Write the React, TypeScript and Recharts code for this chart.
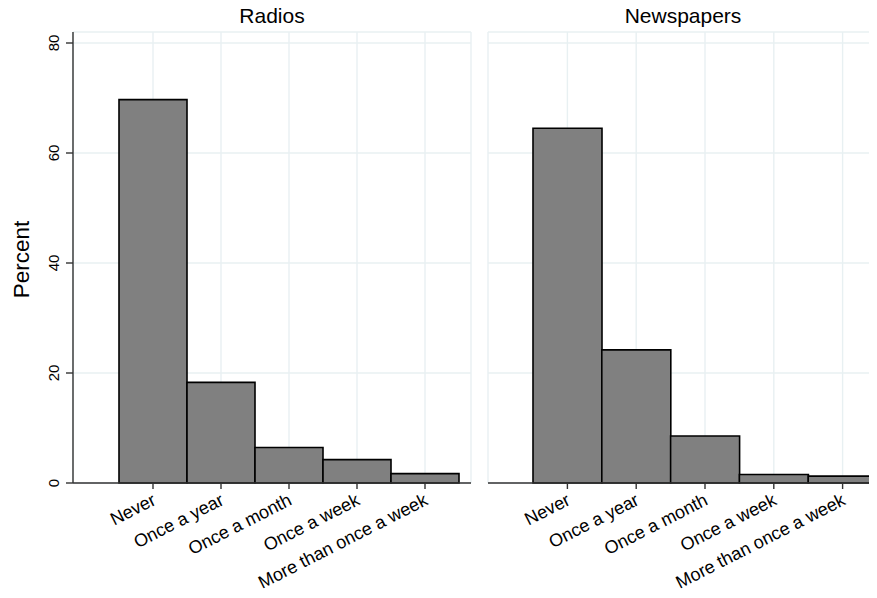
import React from 'react'
import { BarChart, Bar, XAxis, YAxis, CartesianGrid, Label } from 'recharts'

const categories = ['Never', 'Once a year', 'Once a month', 'Once a week', 'More than once a week']
const radios = [69.7, 18.3, 6.45, 4.25, 1.7]
const newspapers = [64.5, 24.2, 8.55, 1.55, 1.25]
const yTicks = [0, 20, 40, 60, 80]

const FONT = '"Liberation Sans", Arial, Helvetica, sans-serif'
const GRID = '#e8f0f2'
const AXIS = '#333'

const radioData = categories.map((c, i) => ({ name: c, value: radios[i] }))
const paperData = categories.map((c, i) => ({ name: c, value: newspapers[i] }))

const CatTick = (props: any) => {
  const { x, y, payload } = props
  const tx = x + 4
  const ty = y + 13
  return (
    <text
      x={tx}
      y={ty}
      transform={`rotate(-27 ${tx} ${ty})`}
      textAnchor="end"
      fontSize={18}
      fontFamily={FONT}
      fill="#000"
    >
      {payload.value}
    </text>
  )
}

const PctTick = (props: any) => {
  const { y, payload } = props
  const tx = 59
  return (
    <text
      x={tx}
      y={y}
      transform={`rotate(-90 ${tx} ${y})`}
      textAnchor="middle"
      fontSize={15}
      fontFamily={FONT}
      fill="#000"
    >
      {payload.value}
    </text>
  )
}

const PercentLabel = (props: any) => {
  const vb = props.viewBox || { y: 32, height: 451 }
  const cy = vb.y + vb.height / 2 + 2
  return (
    <text
      x={29}
      y={cy}
      transform={`rotate(-90 29 ${cy})`}
      textAnchor="middle"
      fontSize={22.5}
      fontFamily={FONT}
      fill="#000"
    >
      Percent
    </text>
  )
}

const titleStyle: React.CSSProperties = {
  position: 'absolute',
  top: 4,
  fontFamily: FONT,
  fontSize: 21,
  color: '#000',
  textAlign: 'center',
}

export default function App() {
  return (
    <div style={{ position: 'relative', margin: -8, width: 877, height: 598, overflow: 'hidden', background: '#fff' }}>
      <div style={{ ...titleStyle, left: 73, width: 398 }}>Radios</div>
      <div style={{ ...titleStyle, left: 488, width: 390 }}>Newspapers</div>

      <div style={{ position: 'absolute', left: 0, top: 0 }}>
        <BarChart width={477} height={598} data={radioData} margin={{ top: 32, right: 6, bottom: 0, left: 0 }} barCategoryGap={0}>
          <CartesianGrid stroke={GRID} strokeWidth={1.4} />
          <XAxis
            dataKey="name"
            interval={0}
            padding={{ left: 46, right: 12 }}
            height={115}
            tickSize={6}
            stroke={AXIS}
            strokeWidth={1.4}
            tick={<CatTick />}
          />
          <YAxis
            width={73}
            domain={[0, 82]}
            ticks={yTicks}
            interval={0}
            tickSize={7}
            stroke={AXIS}
            strokeWidth={1.4}
            tick={<PctTick />}
          >
            <Label content={<PercentLabel />} />
          </YAxis>
          <Bar dataKey="value" fill="#808080" stroke="#000" strokeWidth={1.6} isAnimationActive={false} />
        </BarChart>
      </div>

      <div style={{ position: 'absolute', left: 440, top: 0 }}>
        <BarChart width={437} height={598} data={paperData} margin={{ top: 32, right: 0, bottom: 0, left: 48 }} barCategoryGap={0}>
          <CartesianGrid stroke={GRID} strokeWidth={1.4} />
          <XAxis
            dataKey="name"
            interval={0}
            padding={{ left: 45, right: 0 }}
            height={115}
            tickSize={6}
            stroke={AXIS}
            strokeWidth={1.4}
            tick={<CatTick />}
          />
          <YAxis hide domain={[0, 82]} ticks={yTicks} interval={0} />
          <Bar dataKey="value" fill="#808080" stroke="#000" strokeWidth={1.6} isAnimationActive={false} />
        </BarChart>
      </div>
    </div>
  )
}
